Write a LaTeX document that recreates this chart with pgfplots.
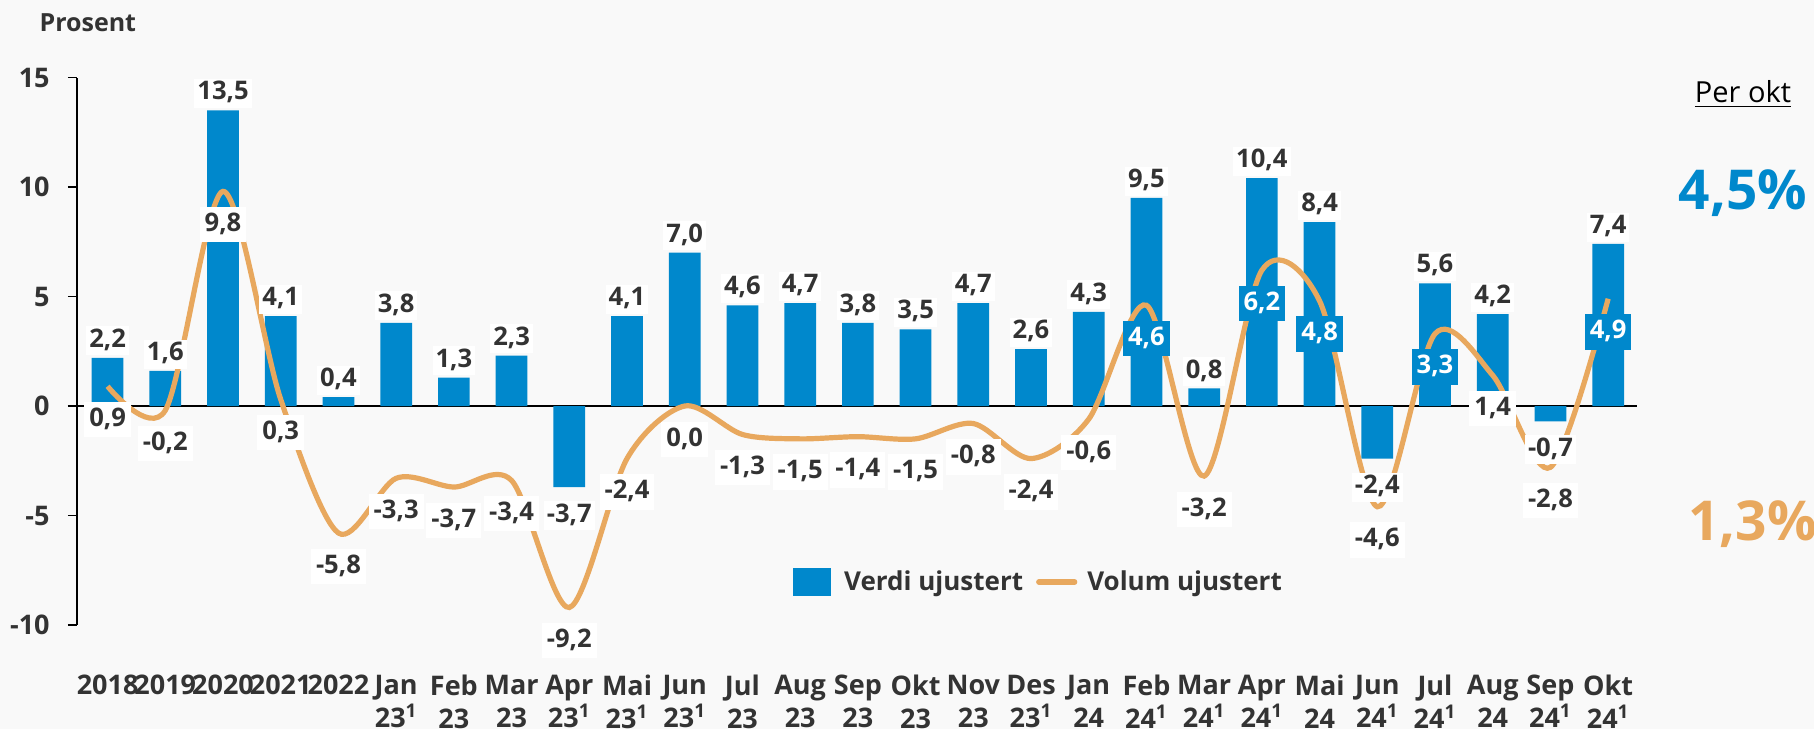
\documentclass[border=0pt]{standalone}
\usepackage{fontspec}
\setmainfont{Open Sans}
\usepackage{pgfplots}
\usepackage{pgfplotstable}
\pgfplotsset{compat=1.18}
\definecolor{blueC}{HTML}{0088CC}
\definecolor{orangeC}{HTML}{E8A85E}
\definecolor{txt}{HTML}{333333}
\definecolor{bg}{HTML}{F9F9F9}

\pgfplotstableread{
x verdi volum vlab olab inbar
0 2.2 0.9 2,2 0,9 0
1 1.6 -0.2 1,6 -0,2 0
2 13.5 9.8 13,5 9,8 0
3 4.1 0.3 4,1 0,3 0
4 0.4 -5.8 0,4 -5,8 0
5 3.8 -3.3 3,8 -3,3 0
6 1.3 -3.7 1,3 -3,7 0
7 2.3 -3.4 2,3 -3,4 0
8 -3.7 -9.2 -3,7 -9,2 0
9 4.1 -2.4 4,1 -2,4 0
10 7.0 0.0 7,0 0,0 0
11 4.6 -1.3 4,6 -1,3 0
12 4.7 -1.5 4,7 -1,5 0
13 3.8 -1.4 3,8 -1,4 0
14 3.5 -1.5 3,5 -1,5 0
15 4.7 -0.8 4,7 -0,8 0
16 2.6 -2.4 2,6 -2,4 0
17 4.3 -0.6 4,3 -0,6 0
18 9.5 4.6 9,5 4,6 1
19 0.8 -3.2 0,8 -3,2 0
20 10.4 6.2 10,4 6,2 1
21 8.4 4.8 8,4 4,8 1
22 -2.4 -4.6 -2,4 -4,6 0
23 5.6 3.3 5,6 3,3 1
24 4.2 1.4 4,2 1,4 0
25 -0.7 -2.8 -0,7 -2,8 0
26 7.4 4.9 7,4 4,9 1
}\data

\begin{document}
\begin{tikzpicture}
\path[use as bounding box, fill=bg] (-38.5pt,-52pt) rectangle (868.5pt,312.5pt);
\begin{axis}[
  scale only axis, width=780pt, height=273.75pt,
  xmin=-0.53, xmax=26.5, ymin=-10, ymax=15,
  axis y line*=left, axis x line*=bottom,
  x axis line style={draw=none},
  y axis line style={line width=0.75pt, black},
  ytick={-10,-5,0,5,10,15},
  tick align=outside, major tick length=4.5pt,
  ytick style={line width=0.75pt, black},
  xtick={0,...,26}, xtick style={draw=none},
  xticklabels={2018,2019,2020,2021,2022,
    {Jan\\23\textsuperscript{1}},{Feb\\23},{Mar\\23},{Apr\\23\textsuperscript{1}},{Mai\\23\textsuperscript{1}},{Jun\\23\textsuperscript{1}},
    {Jul\\23},{Aug\\23},{Sep\\23},{Okt\\23},{Nov\\23},{Des\\23\textsuperscript{1}},
    {Jan\\24},{Feb\\24\textsuperscript{1}},{Mar\\24\textsuperscript{1}},{Apr\\24\textsuperscript{1}},{Mai\\24},{Jun\\24\textsuperscript{1}},
    {Jul\\24\textsuperscript{1}},{Aug\\24},{Sep\\24\textsuperscript{1}},{Okt\\24\textsuperscript{1}}},
  /pgf/number format/assume math mode=true,
  yticklabel style={font=\fontsize{13.5}{16}\selectfont\bfseries, text=txt, anchor=east, inner sep=0pt, xshift=-9pt},
  xticklabel style={font=\fontsize{13.5}{16.5}\selectfont\bfseries, text=txt, align=center, anchor=north, inner sep=0pt, yshift=-20.5pt},
  extra y ticks={0}, extra y tick labels={},
  extra y tick style={grid=major, major grid style={black, line width=1pt}},
  clip=false,
  legend style={at={(rel axis cs:0.617,0.0785)}, anchor=center, draw=none, fill=none,
    font=\fontsize{13}{15}\selectfont\bfseries, text=txt,
    /tikz/every even column/.append style={column sep=4.5pt}},
  legend columns=2,
]
\addplot[ybar, bar width=0.55, fill=blueC, draw=none,
  legend image code/.code={\fill[blueC] (0pt,-7pt) rectangle (19pt,7pt); \path (23.5pt,0pt);}]
  table[x=x, y=verdi]{\data};
\addlegendentry{Verdi ujustert}
\addplot[orangeC, line width=2.6pt, smooth, mark=none,
  legend image code/.code={\draw[orangeC, line width=2.6pt, line cap=round] (0pt,0pt) -- (18pt,0pt); \path (21pt,0pt);}]
  table[x=x, y=volum]{\data};
\addlegendentry{Volum ujustert}
% bar labels, positive
\addplot[forget plot, draw=none, mark=none, nodes near coords, point meta=explicit symbolic,
  restrict expr to domain={\thisrow{verdi}}{0:100},
  nodes near coords style={anchor=base, yshift=5.2pt, fill=white, inner xsep=1.5pt, inner ysep=1.5pt,
    text height=9pt, text depth=2.5pt, font=\fontsize{12.8}{14}\selectfont\bfseries, text=txt}]
  table[x=x, y=verdi, meta=vlab]{\data};
% bar labels, negative
\addplot[forget plot, draw=none, mark=none, nodes near coords, point meta=explicit symbolic,
  restrict expr to domain={\thisrow{verdi}}{-100:0},
  nodes near coords style={anchor=base, yshift=-17.5pt, fill=white, inner xsep=1.5pt, inner ysep=1.5pt,
    text height=9pt, text depth=2.5pt, font=\fontsize{12.8}{14}\selectfont\bfseries, text=txt}]
  table[x=x, y=verdi, meta=vlab]{\data};
% volume labels, white boxes
\addplot[forget plot, draw=none, mark=none, nodes near coords, point meta=explicit symbolic,
  restrict expr to domain={\thisrow{inbar}}{-0.5:0.5},
  nodes near coords style={anchor=base, yshift=-20pt, fill=white, inner xsep=2.5pt, inner ysep=3pt,
    text height=9.2pt, text depth=2.5pt, font=\fontsize{12.8}{14}\selectfont\bfseries, text=txt}]
  table[x=x, y=volum, meta=olab]{\data};
% volume labels, blue boxes
\addplot[forget plot, draw=none, mark=none, nodes near coords, point meta=explicit symbolic,
  restrict expr to domain={\thisrow{inbar}}{0.5:1.5},
  nodes near coords style={anchor=base, yshift=-20pt, fill=blueC, inner xsep=2.5pt, inner ysep=3pt,
    text height=9.2pt, text depth=2.5pt, font=\fontsize{12.8}{14}\selectfont\bfseries, text=white}]
  table[x=x, y=volum, meta=olab]{\data};
\end{axis}
\node[anchor=base west, font=\fontsize{12.5}{15}\selectfont\bfseries, text=txt] at (-22.25pt,296.7pt) {Prosent};
\node[anchor=base, font=\fontsize{14.5}{16}\selectfont, text=black] at (833pt,261pt) {\underline{Per okt}};
\node[anchor=base, font=\fontsize{27.5}{30}\selectfont\bfseries, text=blueC] at (833pt,207.5pt) {4,5\%};
\node[anchor=base, font=\fontsize{27.5}{30}\selectfont\bfseries, text=orangeC] at (837.75pt,42.5pt) {1,3\%};
\end{tikzpicture}
\end{document}
